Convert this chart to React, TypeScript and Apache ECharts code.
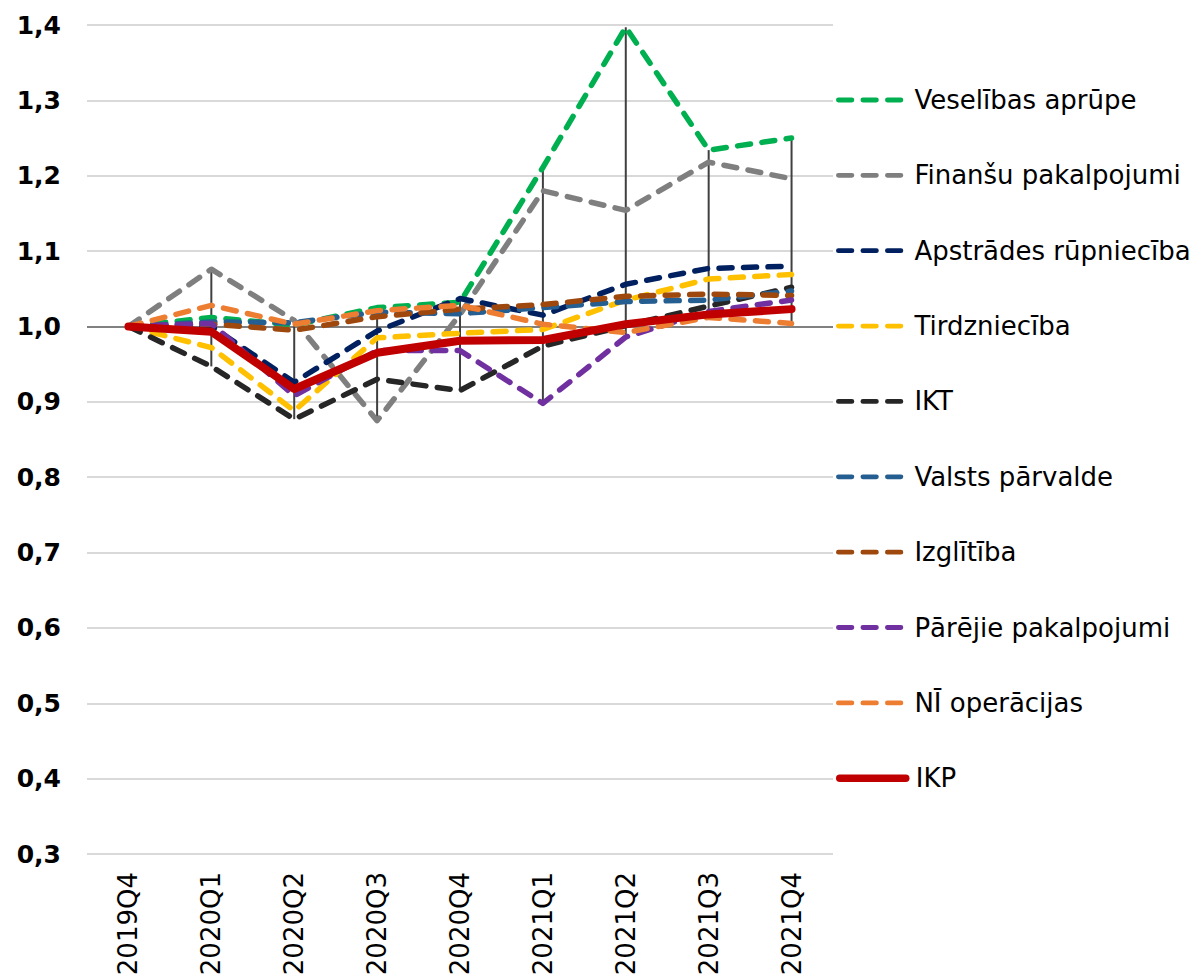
import React, { useEffect, useRef } from "react";
import * as echarts from "echarts";

const categories = ["2019Q4", "2020Q1", "2020Q2", "2020Q3", "2020Q4", "2021Q1", "2021Q2", "2021Q3", "2021Q4"];

const veselibasAprupe = [1.0, 1.012, 1.002, 1.025, 1.032, 1.211, 1.397, 1.234, 1.25];
const finansuPakalpojumi = [1.0, 1.076, 1.008, 0.875, 1.016, 1.18, 1.154, 1.218, 1.196];
const apstradesRupnieciba = [1.0, 1.0, 0.926, 0.994, 1.037, 1.015, 1.056, 1.077, 1.08];
const tirdznieciba = [1.0, 0.972, 0.888, 0.985, 0.991, 0.996, 1.035, 1.063, 1.069];
const ikt = [1.0, 0.947, 0.877, 0.93, 0.915, 0.974, 1.001, 1.027, 1.052];
const valstsParvalde = [1.0, 1.006, 1.005, 1.019, 1.017, 1.025, 1.033, 1.035, 1.047];
const izglitiba = [1.0, 1.003, 0.995, 1.013, 1.023, 1.029, 1.04, 1.043, 1.041];
const parejiePakalpojumi = [1.0, 1.004, 0.908, 0.968, 0.968, 0.898, 0.986, 1.02, 1.035];
const niOperacijas = [1.0, 1.028, 1.003, 1.021, 1.028, 1.003, 0.992, 1.012, 1.004];
const ikp = [1.0, 0.993, 0.917, 0.965, 0.981, 0.982, 1.003, 1.016, 1.023];

const seriesNames = [
  "Veselības aprūpe",
  "Finanšu pakalpojumi",
  "Apstrādes rūpniecība",
  "Tirdzniecība",
  "IKT",
  "Valsts pārvalde",
  "Izglītība",
  "Pārējie pakalpojumi",
  "NĪ operācijas",
  "IKP",
];
const seriesData = [
  veselibasAprupe,
  finansuPakalpojumi,
  apstradesRupnieciba,
  tirdznieciba,
  ikt,
  valstsParvalde,
  izglitiba,
  parejiePakalpojumi,
  niOperacijas,
  ikp,
];
const seriesColors = [
  "#00B050",
  "#7F7F7F",
  "#002060",
  "#FFC000",
  "#262626",
  "#255E91",
  "#9E480E",
  "#7030A0",
  "#ED7D31",
  "#C00000",
];

const FONT = "'DejaVu Sans', Verdana, sans-serif";
const DASH = [13, 11.5];
const LEGEND_DASH = [13.5, 11];

export default function App() {
  const ref = useRef<HTMLDivElement>(null);

  useEffect(() => {
    if (!ref.current) return;
    const chart = echarts.init(ref.current, null, { renderer: "svg" });

    const hiLo = categories.map((_, i) => {
      const vals = seriesData.map((s) => s[i]);
      return [i, Math.max(...vals), Math.min(...vals)];
    });

    const lineSeries = seriesNames.map((name, k) => {
      const solid = name === "IKP";
      return {
        name,
        type: "line",
        data: seriesData[k],
        symbol: "none",
        z: 3 + k,
        lineStyle: {
          color: seriesColors[k],
          width: solid ? 8 : 5.5,
          type: solid ? "solid" : DASH,
          cap: "round",
          join: "round",
        },
        itemStyle: { color: seriesColors[k] },
      };
    });

    const legendTop0 = 100;
    const legendStep = 75.36;
    const itemH = 26;

    const legends = seriesNames.map((name, k) => {
      const solid = name === "IKP";
      return {
        data: [name],
        orient: "vertical",
        left: 836,
        top: legendTop0 + k * legendStep - itemH / 2,
        padding: 0,
        itemWidth: 66,
        itemHeight: itemH,
        selectedMode: false,
        itemStyle: { opacity: 0, borderWidth: 0 },
        lineStyle: {
          color: seriesColors[k],
          width: solid ? 7.5 : 4.8,
          type: solid ? "solid" : LEGEND_DASH,
          cap: "round",
        },
        textStyle: {
          fontFamily: FONT,
          fontSize: 26,
          color: "#000",
          padding: [0, 0, 0, 5],
        },
      };
    });

    chart.setOption({
      animation: false,
      backgroundColor: "#fff",
      grid: {
        left: 87,
        right: 364,
        top: 25,
        bottom: 124,
        containLabel: false,
        outerBoundsMode: "none",
      },
      legend: legends,
      xAxis: {
        type: "category",
        data: categories,
        boundaryGap: true,
        axisLine: { show: false },
        axisTick: { show: false },
        splitLine: { show: false },
        axisLabel: {
          rotate: 90,
          margin: 18,
          fontFamily: FONT,
          fontSize: 26,
          color: "#000",
          interval: 0,
        },
      },
      yAxis: {
        type: "value",
        min: 0.3,
        max: 1.4,
        interval: 0.1,
        axisLine: { show: false },
        axisTick: { show: false },
        splitLine: { lineStyle: { color: "#D9D9D9", width: 2 } },
        axisLabel: {
          margin: 26,
          fontFamily: FONT,
          fontSize: 25,
          fontWeight: "bold",
          color: "#000",
          formatter: (v: number) => v.toFixed(1).replace(".", ","),
        },
      },
      series: [
        {
          type: "custom",
          name: "hilo",
          z: 1,
          silent: true,
          data: hiLo,
          encode: { x: 0, y: [1, 2] },
          renderItem: (_params: any, api: any) => {
            const top = api.coord([api.value(0), api.value(1)]);
            const bot = api.coord([api.value(0), api.value(2)]);
            return {
              type: "line",
              shape: { x1: top[0], y1: top[1], x2: bot[0], y2: bot[1] },
              style: { stroke: "#404040", lineWidth: 2 },
            };
          },
          markLine: {
            silent: true,
            symbol: "none",
            z: 1,
            label: { show: false },
            lineStyle: { color: "#808080", width: 2, type: "solid" },
            data: [{ yAxis: 1.0 }],
          },
        },
        ...lineSeries,
      ],
    });

    return () => chart.dispose();
  }, []);

  return (
    <div
      ref={ref}
      style={{ position: "absolute", left: 0, top: 0, width: 1197, height: 978 }}
    />
  );
}
